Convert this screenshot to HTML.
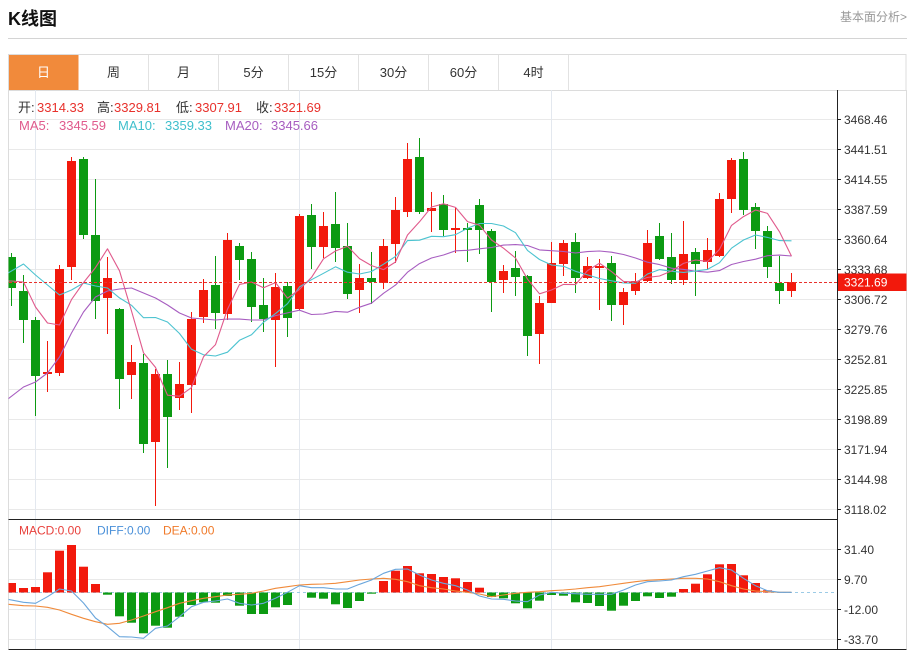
<!DOCTYPE html>
<html><head><meta charset="utf-8"><style>
html,body{margin:0;padding:0;background:#fff;width:910px;height:650px;overflow:hidden}
svg{display:block;font-family:"Liberation Sans","Noto Sans CJK SC",sans-serif}
</style></head><body>
<svg width="910" height="650" viewBox="0 0 910 650" xmlns="http://www.w3.org/2000/svg">
<defs>
<clipPath id="cm"><rect x="8.5" y="90" width="828.5" height="429"/></clipPath>
<clipPath id="cd"><rect x="8.5" y="520" width="828.5" height="129"/></clipPath>
</defs>
<!-- header -->
<text x="8" y="25" font-size="18" font-weight="bold" fill="#111">K线图</text>
<text x="907" y="21" font-size="12" fill="#999" text-anchor="end">基本面分析&gt;</text>
<line x1="8" y1="38.5" x2="907" y2="38.5" stroke="#d4d4d4" stroke-width="1"/>
<!-- tabs -->
<rect x="8.5" y="54.5" width="897.5" height="36" fill="#fff" stroke="#dcdcdc"/>
<rect x="9" y="55" width="69.5" height="35" fill="#f18a3b"/>
<g stroke="#e2e2e2"><line x1="148.5" y1="55" x2="148.5" y2="90"/><line x1="218.5" y1="55" x2="218.5" y2="90"/><line x1="288.5" y1="55" x2="288.5" y2="90"/><line x1="358.5" y1="55" x2="358.5" y2="90"/><line x1="428.5" y1="55" x2="428.5" y2="90"/><line x1="498.5" y1="55" x2="498.5" y2="90"/><line x1="568.5" y1="55" x2="568.5" y2="90"/></g>
<g font-size="13" fill="#333" text-anchor="middle">
<text x="43.5" y="77" fill="#fff">日</text><text x="113.5" y="77">周</text><text x="183.5" y="77">月</text><text x="253.5" y="77">5分</text><text x="323.5" y="77">15分</text><text x="393.5" y="77">30分</text><text x="463.5" y="77">60分</text><text x="533.5" y="77">4时</text>
</g>
<!-- chart frame -->
<line x1="8.5" y1="90" x2="8.5" y2="649" stroke="#dcdcdc"/>
<line x1="906.5" y1="90" x2="906.5" y2="649" stroke="#dcdcdc"/>
<!-- grid -->
<g stroke="#e9e9e9" stroke-width="1">
<line x1="9" y1="119.5" x2="837" y2="119.5"/><line x1="9" y1="149.5" x2="837" y2="149.5"/><line x1="9" y1="179.5" x2="837" y2="179.5"/><line x1="9" y1="209.5" x2="837" y2="209.5"/><line x1="9" y1="239.5" x2="837" y2="239.5"/><line x1="9" y1="269.5" x2="837" y2="269.5"/><line x1="9" y1="299.5" x2="837" y2="299.5"/><line x1="9" y1="329.5" x2="837" y2="329.5"/><line x1="9" y1="359.5" x2="837" y2="359.5"/><line x1="9" y1="389.5" x2="837" y2="389.5"/><line x1="9" y1="419.5" x2="837" y2="419.5"/><line x1="9" y1="449.5" x2="837" y2="449.5"/><line x1="9" y1="479.5" x2="837" y2="479.5"/><line x1="9" y1="509.5" x2="837" y2="509.5"/>
<line x1="9" y1="549.5" x2="837" y2="549.5"/><line x1="9" y1="579.5" x2="837" y2="579.5"/><line x1="9" y1="609.5" x2="837" y2="609.5"/><line x1="9" y1="639.5" x2="837" y2="639.5"/>
</g>
<g stroke="#e3e8ef"><line x1="35.5" y1="90" x2="35.5" y2="649"/><line x1="299.5" y1="90" x2="299.5" y2="649"/><line x1="551.5" y1="90" x2="551.5" y2="649"/></g>
<!-- info text -->
<g font-size="13">
<text x="18" y="112" fill="#333">开:</text><text x="37" y="112" fill="#e8312c">3314.33</text>
<text x="97" y="112" fill="#333">高:</text><text x="114" y="112" fill="#e8312c">3329.81</text>
<text x="176" y="112" fill="#333">低:</text><text x="195" y="112" fill="#e8312c">3307.91</text>
<text x="256" y="112" fill="#333">收:</text><text x="274" y="112" fill="#e8312c">3321.69</text>
<text x="19" y="130" fill="#e05a8c">MA5:</text><text x="59" y="130" fill="#e05a8c">3345.59</text>
<text x="118" y="130" fill="#3fbfcc">MA10:</text><text x="165" y="130" fill="#3fbfcc">3359.33</text>
<text x="225" y="130" fill="#a75dc0">MA20:</text><text x="271" y="130" fill="#a75dc0">3345.66</text>
</g>
<!-- candles -->
<g clip-path="url(#cm)">
<g fill="#f2190c">
<rect x="47" y="341" width="1" height="51"/><rect x="43" y="372" width="9" height="2"/>
<rect x="59" y="265" width="1" height="111"/><rect x="55" y="269" width="9" height="104"/>
<rect x="71" y="157" width="1" height="123"/><rect x="67" y="161" width="9" height="106"/>
<rect x="107" y="257" width="1" height="77"/><rect x="103" y="278" width="9" height="20"/>
<rect x="131" y="345" width="1" height="54"/><rect x="127" y="362" width="9" height="13"/>
<rect x="155" y="369" width="1" height="137"/><rect x="151" y="374" width="9" height="68"/>
<rect x="179" y="362" width="1" height="48"/><rect x="175" y="384" width="9" height="14"/>
<rect x="191" y="312" width="1" height="101"/><rect x="187" y="319" width="9" height="66"/>
<rect x="203" y="279" width="1" height="44"/><rect x="199" y="290" width="9" height="27"/>
<rect x="227" y="233" width="1" height="87"/><rect x="223" y="240" width="9" height="74"/>
<rect x="275" y="273" width="1" height="94"/><rect x="271" y="287" width="9" height="33"/>
<rect x="299" y="214" width="1" height="96"/><rect x="295" y="216" width="9" height="93"/>
<rect x="323" y="212" width="1" height="46"/><rect x="319" y="226" width="9" height="21"/>
<rect x="359" y="264" width="1" height="49"/><rect x="355" y="278" width="9" height="12"/>
<rect x="383" y="239" width="1" height="50"/><rect x="379" y="246" width="9" height="37"/>
<rect x="395" y="197" width="1" height="66"/><rect x="391" y="210" width="9" height="34"/>
<rect x="407" y="143" width="1" height="74"/><rect x="403" y="159" width="9" height="53"/>
<rect x="431" y="192" width="1" height="40"/><rect x="427" y="208" width="9" height="3"/>
<rect x="455" y="208" width="1" height="45"/><rect x="451" y="228" width="9" height="2"/>
<rect x="503" y="265" width="1" height="28"/><rect x="499" y="271" width="9" height="9"/>
<rect x="539" y="296" width="1" height="68"/><rect x="535" y="303" width="9" height="31"/>
<rect x="551" y="242" width="1" height="61"/><rect x="547" y="263" width="9" height="40"/>
<rect x="563" y="240" width="1" height="36"/><rect x="559" y="243" width="9" height="21"/>
<rect x="587" y="257" width="1" height="22"/><rect x="583" y="266" width="9" height="12"/>
<rect x="599" y="259" width="1" height="51"/><rect x="595" y="266" width="9" height="2"/>
<rect x="623" y="288" width="1" height="37"/><rect x="619" y="292" width="9" height="13"/>
<rect x="635" y="273" width="1" height="22"/><rect x="631" y="281" width="9" height="10"/>
<rect x="647" y="230" width="1" height="52"/><rect x="643" y="243" width="9" height="38"/>
<rect x="683" y="221" width="1" height="64"/><rect x="679" y="254" width="9" height="26"/>
<rect x="707" y="238" width="1" height="32"/><rect x="703" y="250" width="9" height="12"/>
<rect x="719" y="193" width="1" height="64"/><rect x="715" y="199" width="9" height="57"/>
<rect x="731" y="158" width="1" height="55"/><rect x="727" y="160" width="9" height="39"/>
<rect x="791" y="273" width="1" height="24"/><rect x="787" y="282" width="9" height="9"/>
</g>
<g fill="#0c9a12">
<rect x="11" y="253" width="1" height="53"/><rect x="7" y="257" width="9" height="31"/>
<rect x="23" y="275" width="1" height="68"/><rect x="19" y="291" width="9" height="29"/>
<rect x="35" y="317" width="1" height="99"/><rect x="31" y="320" width="9" height="56"/>
<rect x="83" y="157" width="1" height="82"/><rect x="79" y="159" width="9" height="76"/>
<rect x="95" y="179" width="1" height="140"/><rect x="91" y="235" width="9" height="66"/>
<rect x="119" y="308" width="1" height="101"/><rect x="115" y="309" width="9" height="70"/>
<rect x="143" y="354" width="1" height="99"/><rect x="139" y="363" width="9" height="81"/>
<rect x="167" y="360" width="1" height="108"/><rect x="163" y="374" width="9" height="43"/>
<rect x="215" y="256" width="1" height="73"/><rect x="211" y="285" width="9" height="28"/>
<rect x="239" y="243" width="1" height="37"/><rect x="235" y="246" width="9" height="14"/>
<rect x="251" y="252" width="1" height="70"/><rect x="247" y="259" width="9" height="48"/>
<rect x="263" y="278" width="1" height="54"/><rect x="259" y="305" width="9" height="14"/>
<rect x="287" y="282" width="1" height="55"/><rect x="283" y="286" width="9" height="32"/>
<rect x="311" y="204" width="1" height="65"/><rect x="307" y="215" width="9" height="32"/>
<rect x="335" y="192" width="1" height="70"/><rect x="331" y="224" width="9" height="24"/>
<rect x="347" y="223" width="1" height="76"/><rect x="343" y="246" width="9" height="48"/>
<rect x="371" y="252" width="1" height="52"/><rect x="367" y="278" width="9" height="4"/>
<rect x="419" y="138" width="1" height="76"/><rect x="415" y="157" width="9" height="55"/>
<rect x="443" y="195" width="1" height="41"/><rect x="439" y="204" width="9" height="26"/>
<rect x="467" y="223" width="1" height="39"/><rect x="463" y="228" width="9" height="2"/>
<rect x="479" y="199" width="1" height="55"/><rect x="475" y="205" width="9" height="25"/>
<rect x="491" y="229" width="1" height="83"/><rect x="487" y="231" width="9" height="51"/>
<rect x="515" y="251" width="1" height="45"/><rect x="511" y="268" width="9" height="9"/>
<rect x="527" y="275" width="1" height="81"/><rect x="523" y="276" width="9" height="60"/>
<rect x="575" y="233" width="1" height="60"/><rect x="571" y="242" width="9" height="36"/>
<rect x="611" y="256" width="1" height="65"/><rect x="607" y="263" width="9" height="42"/>
<rect x="659" y="223" width="1" height="37"/><rect x="655" y="236" width="9" height="23"/>
<rect x="671" y="233" width="1" height="51"/><rect x="667" y="257" width="9" height="23"/>
<rect x="695" y="248" width="1" height="48"/><rect x="691" y="252" width="9" height="12"/>
<rect x="743" y="152" width="1" height="63"/><rect x="739" y="159" width="9" height="51"/>
<rect x="755" y="203" width="1" height="46"/><rect x="751" y="207" width="9" height="24"/>
<rect x="767" y="226" width="1" height="52"/><rect x="763" y="231" width="9" height="36"/>
<rect x="779" y="256" width="1" height="48"/><rect x="775" y="283" width="9" height="8"/>
</g>
<g fill="none" stroke-width="1.1" stroke-linejoin="round">
<polyline stroke="#a75dc0" points="8,399 23.5,387 35.5,382 47.5,373 59.5,357 71.5,333 83.5,312 95.5,297 107.5,291 119.5,289 131.5,288 143.5,293 155.5,298 167.5,305 179.5,313 191.5,318 203.5,319 215.5,320 227.5,319 239.5,319.1 251.5,320 263.5,320 275.5,315.6 287.5,312.9 299.5,310.2 311.5,314.5 323.5,314 335.5,311.4 347.5,312.2 359.5,307.2 371.5,303.2 383.5,293.3 395.5,285.1 407.5,272.2 419.5,263.6 431.5,258 443.5,255 455.5,250.8 467.5,250.3 479.5,248.8 491.5,247.5 503.5,245.1 515.5,244.6 527.5,245.5 539.5,249.9 551.5,250.7 563.5,251.5 575.5,253 587.5,251.6 599.5,251 611.5,252.2 623.5,254.5 635.5,258 647.5,262.2 659.5,264.6 671.5,268.2 683.5,269.4 695.5,271.2 707.5,272.2 719.5,270.6 731.5,264.5 743.5,261.5 755.5,259.2 767.5,255.7 779.5,255.1 791.5,256"/>
<polyline stroke="#4cc3d0" points="8,273 23.5,264 35.5,275 47.5,285 59.5,295 71.5,290 83.5,283 95.5,286 107.5,288 119.5,297.9 131.5,305.3 143.5,317.7 155.5,317.5 167.5,322 179.5,333.5 191.5,349.3 203.5,354.8 215.5,356 227.5,352.2 239.5,340.3 251.5,334.8 263.5,322.3 275.5,313.6 287.5,303.7 299.5,286.9 311.5,279.7 323.5,273.3 335.5,266.8 347.5,272.2 359.5,274 371.5,271.5 383.5,264.2 395.5,256.5 407.5,240.6 419.5,240.2 431.5,236.3 443.5,236.7 455.5,234.7 467.5,228.3 479.5,223.5 491.5,223.5 503.5,226 515.5,232.7 527.5,250.4 539.5,259.5 551.5,265 563.5,266.3 575.5,271.3 587.5,274.9 599.5,278.5 611.5,280.8 623.5,282.9 635.5,283.3 647.5,274 659.5,269.6 671.5,271.3 683.5,272.4 695.5,271 707.5,269.4 719.5,262.7 731.5,248.2 743.5,240 755.5,235 767.5,237.4 779.5,240.6 791.5,240.8"/>
<polyline stroke="#e05a8c" points="8,281 11.5,281 23.5,282 35.5,307 47.5,323 59.5,325 71.5,299.6 83.5,282.6 95.5,267.6 107.5,248.8 119.5,270.8 131.5,311 143.5,352.8 155.5,367.4 167.5,395.2 179.5,396.2 191.5,387.6 203.5,356.8 215.5,344.6 227.5,309.2 239.5,284.4 251.5,282 263.5,287.8 275.5,282.6 287.5,298.2 299.5,289.4 311.5,277.4 323.5,258.8 335.5,251 347.5,246.2 359.5,258.6 371.5,265.6 383.5,269.6 395.5,262 407.5,235 419.5,221.8 431.5,207 443.5,203.8 455.5,207.4 467.5,221.6 479.5,225.2 491.5,240 503.5,248.2 515.5,258 527.5,279.2 539.5,293.8 551.5,290 563.5,284.4 575.5,284.6 587.5,270.6 599.5,263.2 611.5,271.6 623.5,281.4 635.5,282 647.5,277.4 659.5,276 671.5,271 683.5,263.4 695.5,260 707.5,261.4 719.5,249.4 731.5,225.4 743.5,216.6 755.5,210 767.5,213.4 779.5,231.8 791.5,256.2"/>
</g>
<line x1="9" y1="282.5" x2="837" y2="282.5" stroke="#e8312c" stroke-width="1" stroke-dasharray="3,2"/>
</g>
<!-- MACD -->
<g clip-path="url(#cd)">
<line x1="9" y1="592.5" x2="835" y2="592.5" stroke="#9ccbe6" stroke-dasharray="3,3"/>
<g fill="#f2190c">
<rect x="7" y="583" width="9" height="9.5"/><rect x="19" y="588" width="9" height="4.5"/><rect x="31" y="587" width="9" height="5.5"/><rect x="43" y="572.3" width="9" height="20.2"/><rect x="55" y="550.7" width="9" height="41.8"/><rect x="67" y="545" width="9" height="47.5"/><rect x="79" y="566.7" width="9" height="25.8"/><rect x="91" y="584" width="9" height="8.5"/>
<rect x="379" y="581" width="9" height="11.5"/><rect x="391" y="570.7" width="9" height="21.8"/><rect x="403" y="566" width="9" height="26.5"/><rect x="415" y="573.3" width="9" height="19.2"/><rect x="427" y="574" width="9" height="18.5"/><rect x="439" y="577" width="9" height="15.5"/><rect x="451" y="578.3" width="9" height="14.2"/><rect x="463" y="582" width="9" height="10.5"/><rect x="475" y="587.7" width="9" height="4.8"/>
<rect x="679" y="589" width="9" height="3.5"/><rect x="691" y="583.7" width="9" height="8.8"/><rect x="703" y="574.3" width="9" height="18.2"/><rect x="715" y="564.3" width="9" height="28.2"/><rect x="727" y="564" width="9" height="28.5"/><rect x="739" y="575.3" width="9" height="17.2"/><rect x="751" y="583" width="9" height="9.5"/><rect x="763" y="590.3" width="9" height="2.2"/>
</g>
<g fill="#0c9a12">
<rect x="103" y="592.5" width="9" height="2.2"/><rect x="115" y="592.5" width="9" height="23.8"/><rect x="127" y="592.5" width="9" height="30.2"/><rect x="139" y="592.5" width="9" height="40.8"/><rect x="151" y="592.5" width="9" height="33.2"/><rect x="163" y="592.5" width="9" height="35.2"/><rect x="175" y="592.5" width="9" height="24.2"/><rect x="187" y="592.5" width="9" height="12.5"/><rect x="199" y="592.5" width="9" height="9.8"/><rect x="211" y="592.5" width="9" height="10.2"/><rect x="223" y="592.5" width="9" height="3.5"/><rect x="235" y="592.5" width="9" height="13.2"/><rect x="247" y="592.5" width="9" height="21.5"/><rect x="259" y="592.5" width="9" height="21.5"/><rect x="271" y="592.5" width="9" height="14.8"/><rect x="283" y="592.5" width="9" height="12.5"/>
<rect x="307" y="592.5" width="9" height="5.2"/><rect x="319" y="592.5" width="9" height="6.2"/><rect x="331" y="592.5" width="9" height="11.8"/><rect x="343" y="592.5" width="9" height="15.5"/><rect x="355" y="592.5" width="9" height="8.5"/><rect x="367" y="592.5" width="9" height="1.2"/>
<rect x="487" y="592.5" width="9" height="4.5"/><rect x="499" y="592.5" width="9" height="5.8"/><rect x="511" y="592.5" width="9" height="10.8"/><rect x="523" y="592.5" width="9" height="15.8"/><rect x="535" y="592.5" width="9" height="8.2"/><rect x="547" y="592.5" width="9" height="2.5"/><rect x="559" y="592.5" width="9" height="3.2"/><rect x="571" y="592.5" width="9" height="9.8"/><rect x="583" y="592.5" width="9" height="10.5"/><rect x="595" y="592.5" width="9" height="13.5"/><rect x="607" y="592.5" width="9" height="18.2"/><rect x="619" y="592.5" width="9" height="13.2"/><rect x="631" y="592.5" width="9" height="8.5"/><rect x="643" y="592.5" width="9" height="3.8"/><rect x="655" y="592.5" width="9" height="5.5"/><rect x="667" y="592.5" width="9" height="4.2"/>
</g>
<g fill="none" stroke-width="1.1" stroke-linejoin="round">
<polyline stroke="#f08a3a" points="8,604.3 23.5,605.7 35.5,606 47.5,607.3 59.5,610 71.5,614.3 83.5,618.3 95.5,621.7 107.5,624.3 119.5,623.3 131.5,620 143.5,616 155.5,611.7 167.5,607.7 179.5,603.3 191.5,600.7 203.5,598.3 215.5,596.7 227.5,595 239.5,594.3 251.5,593.3 263.5,591 275.5,588.3 287.5,586.7 299.5,585 311.5,584.3 323.5,584 335.5,583.3 347.5,581.7 359.5,580 371.5,579 383.5,578.3 395.5,579.3 407.5,581.7 419.5,585.7 431.5,587.7 443.5,589 455.5,591 467.5,592.3 479.5,594 491.5,596.7 503.5,595 515.5,593.3 527.5,592.3 539.5,591.7 551.5,590.7 563.5,590 575.5,589 587.5,587.7 599.5,586.7 611.5,585 623.5,583.3 635.5,581.7 647.5,580.3 659.5,579.7 671.5,579 683.5,578.3 695.5,578.3 707.5,579 719.5,581.7 731.5,585.7 743.5,589 755.5,591 767.5,591.7 779.5,592.3 791.5,592.3"/>
<polyline stroke="#6aa6dc" points="8,599.3 23.5,602.3 35.5,603.3 47.5,596.7 59.5,589 71.5,591 83.5,603 95.5,618 107.5,626.7 119.5,636.7 131.5,637 143.5,638.3 155.5,628.3 167.5,626 179.5,616.7 191.5,606.7 203.5,602.3 215.5,601 227.5,599 239.5,603.3 251.5,605 263.5,603.3 275.5,598.3 287.5,592.3 299.5,585.7 311.5,587.7 323.5,587.7 335.5,589 347.5,589 359.5,584.3 371.5,580 383.5,573.3 395.5,569.3 407.5,569 419.5,575 431.5,580 443.5,583.3 455.5,585.7 467.5,590 479.5,596 491.5,599 503.5,599.3 515.5,601 527.5,601.7 539.5,595 551.5,592.3 563.5,593.3 575.5,593.7 587.5,594.3 599.5,594.3 611.5,594.3 623.5,590 635.5,585 647.5,581.7 659.5,581 671.5,580 683.5,576.7 695.5,574.3 707.5,571 719.5,567.7 731.5,570 743.5,578.3 755.5,585.7 767.5,590.7 779.5,592.3 791.5,592.3"/>
</g>
</g>
<g font-size="12">
<text x="19" y="534.5" fill="#e8413c">MACD:0.00</text>
<text x="97" y="534.5" fill="#4a90d9">DIFF:0.00</text>
<text x="163" y="534.5" fill="#f07a2a">DEA:0.00</text>
</g>
<!-- axes -->
<line x1="8.5" y1="519.5" x2="837" y2="519.5" stroke="#222"/>
<line x1="8.5" y1="649.5" x2="906.5" y2="649.5" stroke="#222"/>
<line x1="837.5" y1="90" x2="837.5" y2="650" stroke="#222"/>
<g stroke="#222">
<line x1="837" y1="119.5" x2="841" y2="119.5"/><line x1="837" y1="149.5" x2="841" y2="149.5"/><line x1="837" y1="179.5" x2="841" y2="179.5"/><line x1="837" y1="209.5" x2="841" y2="209.5"/><line x1="837" y1="239.5" x2="841" y2="239.5"/><line x1="837" y1="269.5" x2="841" y2="269.5"/><line x1="837" y1="299.5" x2="841" y2="299.5"/><line x1="837" y1="329.5" x2="841" y2="329.5"/><line x1="837" y1="359.5" x2="841" y2="359.5"/><line x1="837" y1="389.5" x2="841" y2="389.5"/><line x1="837" y1="419.5" x2="841" y2="419.5"/><line x1="837" y1="449.5" x2="841" y2="449.5"/><line x1="837" y1="479.5" x2="841" y2="479.5"/><line x1="837" y1="509.5" x2="841" y2="509.5"/>
<line x1="837" y1="549.5" x2="841" y2="549.5"/><line x1="837" y1="579.5" x2="841" y2="579.5"/><line x1="837" y1="609.5" x2="841" y2="609.5"/><line x1="837" y1="639.5" x2="841" y2="639.5"/>
</g>
<g font-size="12" fill="#333">
<text x="844" y="123.8">3468.46</text><text x="844" y="153.8">3441.51</text><text x="844" y="183.8">3414.55</text><text x="844" y="213.8">3387.59</text><text x="844" y="243.8">3360.64</text><text x="844" y="273.8">3333.68</text><text x="844" y="303.8">3306.72</text><text x="844" y="333.8">3279.76</text><text x="844" y="363.8">3252.81</text><text x="844" y="393.8">3225.85</text><text x="844" y="423.8">3198.89</text><text x="844" y="453.8">3171.94</text><text x="844" y="483.8">3144.98</text><text x="844" y="513.8">3118.02</text>
<text x="844" y="553.8">31.40</text><text x="844" y="583.8">9.70</text><text x="844" y="613.8">-12.00</text><text x="844" y="643.8">-33.70</text>
</g>
<rect x="838" y="273.5" width="68.5" height="17.5" fill="#f2190c"/>
<text x="844" y="286.5" font-size="12" fill="#fff">3321.69</text>
</svg>
</body></html>
